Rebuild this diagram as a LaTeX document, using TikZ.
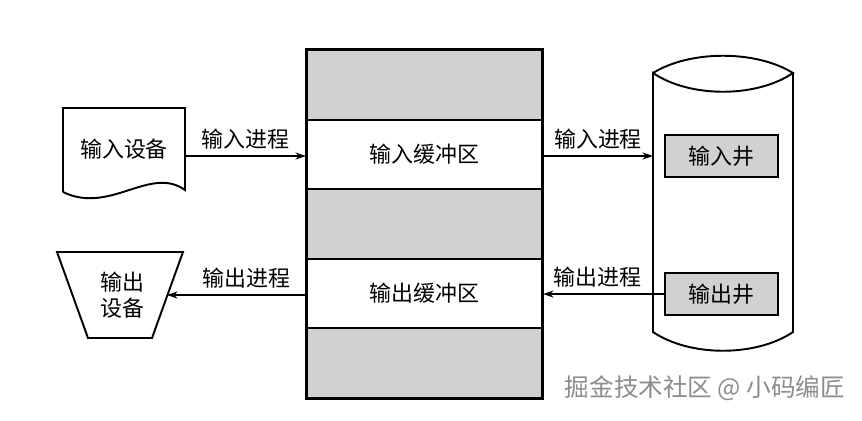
\documentclass[tikz,border=0pt]{standalone}
\usepackage{fontspec}
\setmainfont{Noto Sans CJK SC}
\usepackage{tikz}
\usetikzlibrary{arrows.meta}
\definecolor{bandgray}{gray}{0.82}
\definecolor{markgray}{gray}{0.55}
\tikzset{
  band/.style={draw,line width=1.2pt,minimum width=4.7cm,minimum height=1.39cm,inner sep=0pt},
  well/.style={draw,line width=1.2pt,fill=bandgray,minimum width=2.26cm,minimum height=0.84cm,inner sep=0pt},
  proc/.style={line width=0.6pt,-{Stealth[length=6pt,width=4pt]}},
  lbl/.style={font=\fontsize{12.5}{15}\selectfont}
}
\begin{document}
\begin{tikzpicture}[x=0.02cm,y=-0.02cm,lbl]
\useasboundingbox (0,0) rectangle (862,420);
% buffer stack
\node[band,fill=bandgray] (topband) at (424.5,85) {};
\node[band] (inbuf) at (424.5,154.5) {输入缓冲区};
\node[band,fill=bandgray] (midband) at (424.5,224) {};
\node[band] (outbuf) at (424.5,293.5) {输出缓冲区};
\node[band,fill=bandgray] (botband) at (424.5,363) {};
\draw[line width=1.6pt] (topband.north west) rectangle (botband.south east);
% input device
\draw[line width=1.1pt] (63,192) -- (63,108) -- (185,108) -- (185,190)
  .. controls (150,165) and (110,215) .. (63,192);
\node (indev) at (124,149) {输入设备};
\coordinate (inA) at (185,156);
% output device
\draw[line width=1.1pt] (57,252) -- (183,252) -- (152,338) -- (88,338) -- cycle;
\node[align=center,inner sep=0pt] (outdev) at (122,295) {输出\\设备};
\coordinate (outA) at (167,295);
% well (cylinder)
\draw[line width=1.1pt] (653,73) .. controls (690,50) and (756,50) .. (793,73)
  .. controls (756,98) and (690,98) .. (653,73) -- (653,332)
  .. controls (690,357) and (756,357) .. (793,332) -- (793,73);
\node[well] (inwell) at (721.5,156) {输入井};
\node[well] (outwell) at (721.5,294) {输出井};
\coordinate (cylA) at (653,156);
% processes
\draw[proc] (inA) -- (inbuf.west |- inA) node[midway,above] {输入进程};
\draw[proc] (inbuf.east |- inA) -- (cylA) node[midway,above] {输入进程};
\draw[proc] (outwell.west) -- (outbuf.east |- outwell.west) node[pos=0.55,above] {输出进程};
\draw[proc] (outbuf.west |- outA) -- (outA) node[pos=0.43,above] {输出进程};
% watermark
\node[text=markgray,font=\fontsize{14}{16}\selectfont] (mark) at (705,388) {掘金技术社区 @ 小码编匠};
\end{tikzpicture}
\end{document}
